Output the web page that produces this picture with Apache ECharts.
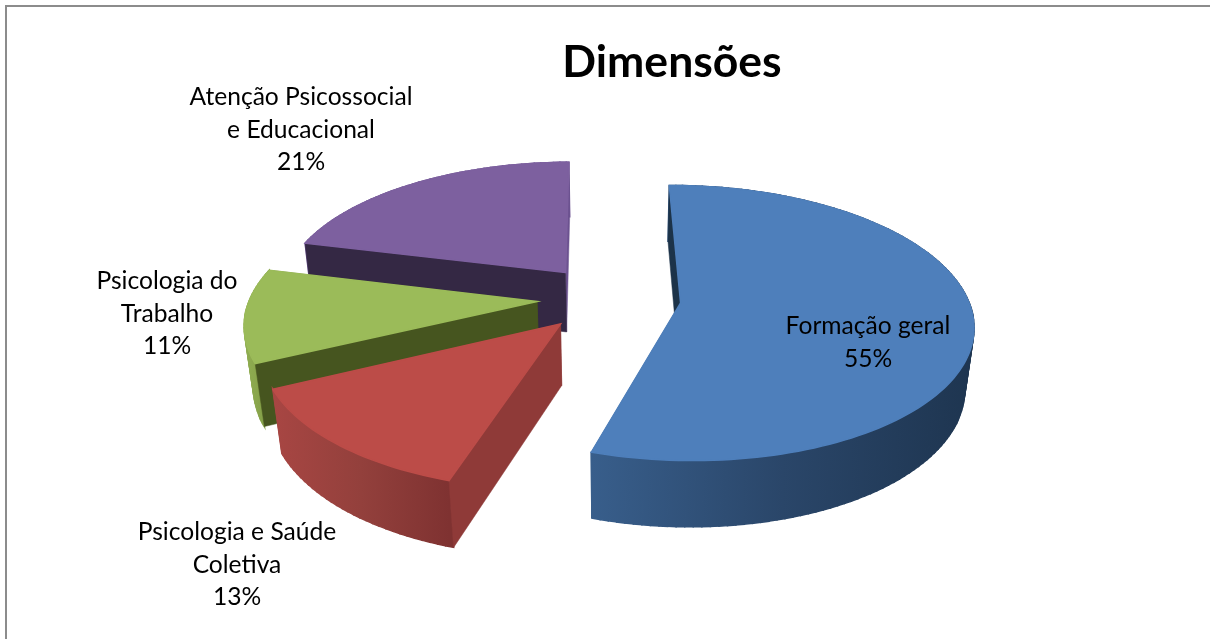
<!DOCTYPE html>
<html>
<head>
<meta charset="utf-8">
<title>Dimensões</title>
<script src="https://cdn.jsdelivr.net/npm/echarts@6/dist/echarts.min.js"></script>
<style>
	html, body { margin: 0; padding: 0; background: #fff; }
	#main { width: 1210px; height: 639px; }
</style>
</head>
<body>
<div id="main"></div>
<script>
// dados
var titleText = 'Dimensões';
var categories = ['Formação geral', 'Psicologia e Saúde Coletiva', 'Psicologia do Trabalho', 'Atenção Psicossocial e Educacional'];
var values = [55, 13, 11, 21];
var labelLines = [['Formação geral'], ['Psicologia e Saúde', 'Coletiva'], ['Psicologia do', 'Trabalho'], ['Atenção Psicossocial', 'e Educacional']];

// aparência de cada fatia
var topColors = ['#4e7fbb', '#bc4c48', '#9bbb59', '#7d609f'];
var startCutColors = ['#1c3349', '#8f3a38', '#46551f', '#342844'];
var endCutColors = ['#1c3349', '#8f3a38', '#46551f', '#6c5290'];
var wallStops = [
	['#385e8b', '#2a4669', '#1e3550'],
	['#a84643', '#93403c', '#7f3231'],
	['#90ae52', '#8aa64c', '#7f9a45'],
	['#6c5290', '#6c5290', '#6c5290']
];
var labelSpots = [[868, 326], [237, 532], [167, 281], [301, 97]];

// geometria da projeção
var cx = 609, cy = 298;
var radius = 287, explode = 72;
var tilt = 0.464, persp = 0.000506;
var depth = 62, depthPersp = 0.025;
var firstAngle = -0.5;

function toRad(d) { return d * Math.PI / 180; }

function project(u, v, bottom) {
	var q = 1 - persp * v;
	if (bottom) q += depthPersp;
	return [cx + u / q, cy + (tilt * v + (bottom ? depth : 0)) / q];
}

var total = values.reduce(function (a, b) { return a + b; }, 0);
var angles = [];
var acc = firstAngle;
values.forEach(function (v) {
	var sweep = v / total * 360;
	angles.push([acc, acc + sweep]);
	acc += sweep;
});

function renderSlice(params, api) {
	var i = api.value(0);
	var a0 = angles[i][0], a1 = angles[i][1];
	var mid = toRad((a0 + a1) / 2);
	var ou = Math.sin(mid) * explode, ov = -Math.cos(mid) * explode;
	var rim = function (deg, bottom) {
		var t = toRad(deg);
		return project(ou + Math.sin(t) * radius, ov - Math.cos(t) * radius, bottom);
	};
	var rimTop = [], rimBottom = [];
	for (var d = a0; d < a1; d += 1.5) {
		rimTop.push(rim(d, false));
		rimBottom.push(rim(d, true));
	}
	rimTop.push(rim(a1, false));
	rimBottom.push(rim(a1, true));
	var apexTop = project(ou, ov, false), apexBottom = project(ou, ov, true);

	var xs = rimTop.map(function (p) { return p[0]; });
	var stops = wallStops[i];
	var wallFill = {
		type: 'linear', global: true,
		x: Math.min.apply(null, xs), y: 0, x2: Math.max.apply(null, xs), y2: 0,
		colorStops: [
			{ offset: 0, color: stops[0] },
			{ offset: 0.5, color: stops[1] },
			{ offset: 1, color: stops[2] }
		]
	};

	var poly = function (points, fill, width) {
		return { type: 'polygon', shape: { points: points }, style: { fill: fill, stroke: fill, lineWidth: width || 0.5 } };
	};
	// corte final, parede externa, corte inicial e por fim o topo
	var children = [
		poly([apexTop, rimTop[rimTop.length - 1], rimBottom[rimBottom.length - 1], apexBottom], endCutColors[i])
	];
	// parede em pedaços, senão a silhueta lateral fica aberta
	for (var n = 0; n < rimTop.length - 1; n++) {
		children.push(poly([rimTop[n], rimTop[n + 1], rimBottom[n + 1], rimBottom[n]], wallFill, 1.5));
	}
	children.push(poly([apexTop, rimTop[0], rimBottom[0], apexBottom], startCutColors[i]));
	children.push(poly([apexTop].concat(rimTop), topColors[i], 1.5));
	return { type: 'group', children: children };
}

// fundo primeiro: roxo, verde, vermelho, azul
var drawOrder = values.map(function (v, i) { return i; }).sort(function (a, b) { return b - a; });

var labelData = [];
labelLines.forEach(function (lines, i) {
	lines.concat([values[i] + '%']).forEach(function (line, n) {
		labelData.push({
			type: 'text',
			x: labelSpots[i][0],
			y: labelSpots[i][1] + n * 32.6,
			z: 10,
			style: { text: line, fontFamily: 'Lato', fontSize: 24.6, fill: '#000', align: 'center', verticalAlign: 'middle' }
		});
	});
});

var chart = echarts.init(document.getElementById('main'), null, { renderer: 'canvas' });
chart.setOption({
	animation: false,
	backgroundColor: '#fff',
	title: {
		text: titleText,
		left: 667,
		top: 35,
		textAlign: 'center',
		textStyle: { fontFamily: 'Lato', fontSize: 44.5, fontWeight: 'bold', color: '#000' }
	},
	graphic: {
		elements: [{
			type: 'polyline',
			shape: { points: [[6, 639], [6, 6], [1210, 6]] },
			style: { stroke: '#8c8c8c', fill: null, lineWidth: 2 },
			silent: true
		}].concat(labelData)
	},
	series: [{
		type: 'custom',
		coordinateSystem: 'none',
		name: titleText,
		renderItem: renderSlice,
		encode: { value: 1 },
		data: drawOrder.map(function (i) {
			return { name: categories[i], value: [i, values[i]] };
		})
	}]
});
</script>
</body>
</html>
